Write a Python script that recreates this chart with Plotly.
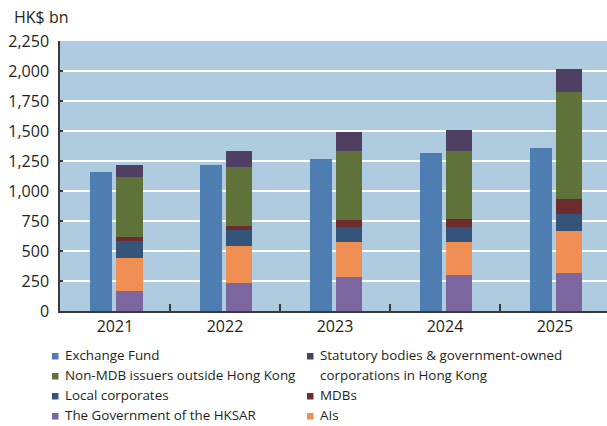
import plotly.graph_objects as go

# Outstanding amounts by issuer group, HK$ bn
years = ["2021", "2022", "2023", "2024", "2025"]
exchange_fund = [1157, 1215, 1265, 1315, 1357]
government_hksar = [164, 231, 281, 298, 314]
ais = [275, 309, 292, 275, 351]
local_corporates = [142, 133, 125, 125, 141]
mdbs = [34, 36, 58, 67, 126]
non_mdb_outside_hk = [500, 490, 576, 567, 892]
statutory_bodies = [100, 133, 159, 175, 192]

y_ticks = [0, 250, 500, 750, 1000, 1250, 1500, 1750, 2000, 2250]

FONT = "Open Sans"
TEXT = "#231F20"
W, H = 607, 426
ML, MR, MT, MB = 60, 0, 41, 115

colors = {
    "Exchange Fund": "#4E7DB1",
    "The Government of the HKSAR": "#7B66A0",
    "AIs": "#EF8F53",
    "Local corporates": "#35547A",
    "MDBs": "#6D2C2D",
    "Non-MDB issuers outside Hong Kong": "#5F723A",
    "Statutory bodies & government-owned corporations in Hong Kong": "#4F3F63",
}

idx = list(range(len(years)))
x_ef = [i - 0.13 for i in idx]
x_stack = [i + 0.13 for i in idx]

fig = go.Figure()
fig.add_trace(go.Bar(x=x_ef, y=exchange_fund, width=0.2,
                     marker=dict(color=colors["Exchange Fund"], line=dict(width=0)),
                     name="Exchange Fund", showlegend=False))

stack = [
    ("The Government of the HKSAR", government_hksar),
    ("AIs", ais),
    ("Local corporates", local_corporates),
    ("MDBs", mdbs),
    ("Non-MDB issuers outside Hong Kong", non_mdb_outside_hk),
    ("Statutory bodies & government-owned corporations in Hong Kong", statutory_bodies),
]
for name, vals in stack:
    fig.add_trace(go.Bar(x=x_stack, y=vals, width=0.24,
                         marker=dict(color=colors[name], line=dict(width=0)),
                         name=name, showlegend=False))

fig.update_layout(
    width=W, height=H,
    margin=dict(l=ML, r=MR, t=MT, b=MB, pad=0),
    barmode="stack",
    plot_bgcolor="#AFCBE0",
    paper_bgcolor="white",
    font=dict(family=FONT, size=16, color=TEXT),
    showlegend=False,
)

fig.update_xaxes(
    range=[-0.5, 4.473],
    tickmode="array", tickvals=idx, ticktext=years,
    ticks="", showgrid=False, zeroline=False,
    showline=True, linecolor="#3A3A3A", linewidth=2,
    tickfont=dict(family=FONT, size=16, color=TEXT),
    minor=dict(tickmode="array", tickvals=[0.5, 1.5, 2.5, 3.5],
               ticks="inside", ticklen=7, tickwidth=1.5, tickcolor="#3A3A3A",
               showgrid=False),
)
fig.update_yaxes(
    range=[0, 2250],
    tickmode="array", tickvals=y_ticks,
    tickformat=",",
    ticks="inside", ticklen=3, tickwidth=1.5, tickcolor="#3A3A3A",
    showgrid=True, gridcolor="white", gridwidth=1.5,
    zeroline=False,
    showline=True, linecolor="#3A3A3A", linewidth=1.5,
    ticklabelstandoff=6,
    tickfont=dict(family=FONT, size=16, color=TEXT),
)

# pixel -> paper helpers
pw = W - ML - MR
ph = H - MT - MB


def px(xp):
    return (xp - ML) / pw


def py(yp):
    return (H - MB - yp) / ph


fig.add_annotation(text="HK$ bn", x=px(12), y=py(17), xref="paper", yref="paper",
                   xanchor="left", yanchor="middle", showarrow=False,
                   font=dict(family=FONT, size=16, color=TEXT))

# Legend: two columns of swatch + label
LEG_SIZE = 13.4
legend_rows = [
    (52, 63, 355, "Exchange Fund", "Exchange Fund"),
    (52, 63, 375, "Non-MDB issuers outside Hong Kong", "Non-MDB issuers outside Hong Kong"),
    (52, 63, 395, "Local corporates", "Local corporates"),
    (52, 63, 415, "The Government of the HKSAR", "The Government of the HKSAR"),
    (307, 318, 355, "Statutory bodies & government-owned corporations in Hong Kong",
     "Statutory bodies & government-owned"),
    (307, 318, 395, "MDBs", "MDBs"),
    (307, 318, 415, "AIs", "AIs"),
]
for sx, tx, ty, key, label in legend_rows:
    fig.add_shape(type="rect", xref="paper", yref="paper",
                  x0=px(sx), x1=px(sx + 6.5), y0=py(ty + 4.5), y1=py(ty - 2),
                  fillcolor=colors[key], line=dict(width=0))
    fig.add_annotation(text=label, x=px(tx), y=py(ty), xref="paper", yref="paper",
                       xanchor="left", yanchor="middle", showarrow=False,
                       font=dict(family=FONT, size=LEG_SIZE, color=TEXT))
fig.add_annotation(text="corporations in Hong Kong", x=px(318), y=py(375),
                   xref="paper", yref="paper", xanchor="left", yanchor="middle",
                   showarrow=False, font=dict(family=FONT, size=LEG_SIZE, color=TEXT))

fig.write_html("out.html")
